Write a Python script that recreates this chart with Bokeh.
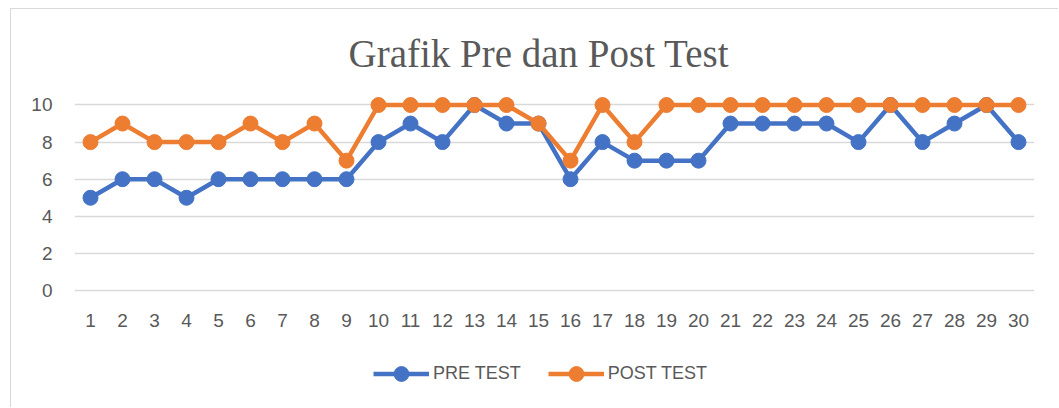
from bokeh.plotting import figure
from bokeh.models import FactorRange, Range1d, Legend, LegendItem, FixedTicker
from bokeh.embed import file_html
from bokeh.resources import INLINE

students = [str(i) for i in range(1, 31)]
pre_test = [5, 6, 6, 5, 6, 6, 6, 6, 6, 8, 9, 8, 10, 9, 9, 6, 8, 7, 7, 7, 9, 9, 9, 9, 8, 10, 8, 9, 10, 8]
post_test = [8, 9, 8, 8, 8, 9, 8, 9, 7, 10, 10, 10, 10, 10, 9, 7, 10, 8, 10, 10, 10, 10, 10, 10, 10, 10, 10, 10, 10, 10]
y_ticks = [0, 2, 4, 6, 8, 10]
series_names = ["PRE TEST", "POST TEST"]

BLUE = "#4472C4"
ORANGE = "#ED7D31"
TEXT = "#595959"
GRID = "#d9d9d9"

p = figure(
    width=1048, height=399,
    x_range=FactorRange(factors=students),
    y_range=Range1d(-5.067, 10.566),
    output_backend="svg", toolbar_location=None,
    min_border_left=63, min_border_right=25, min_border_top=85, min_border_bottom=24,
)
p.margin = (8, 0, 0, 10)
p.styles = {"border-left": "1px solid #d9d9d9", "border-top": "1px solid #d9d9d9"}
p.outline_line_color = None
p.background_fill_color = "white"
p.border_fill_color = "white"

p.title.text = "Grafik Pre dan Post Test"
p.title.align = "left"
p.title.offset = 274
p.title.standoff = 40
p.title.text_font = "Liberation Serif"
p.title.text_font_size = "39px"
p.title.text_font_style = "normal"
p.title.text_color = TEXT

for ax in (p.xaxis[0], p.yaxis[0]):
    ax.axis_line_color = None
    ax.major_tick_line_color = None
    ax.minor_tick_line_color = None
    ax.major_tick_out = 0
    ax.major_tick_in = 0
    ax.major_label_text_font = "Liberation Sans"
    ax.major_label_text_font_size = "19px"
    ax.major_label_text_color = TEXT
p.xaxis[0].fixed_location = -1.29
p.xaxis[0].major_label_standoff = 0
p.yaxis[0].major_label_standoff = 22
p.yaxis[0].ticker = FixedTicker(ticks=y_ticks)

p.xgrid.grid_line_color = None
p.ygrid.ticker = FixedTicker(ticks=y_ticks)
p.ygrid.grid_line_color = GRID
p.ygrid.grid_line_width = 1.5

l1 = p.line(students, pre_test, line_color=BLUE, line_width=4.5)
s1 = p.scatter(students, pre_test, size=15, fill_color=BLUE, line_color=BLUE)
l2 = p.line(students, post_test, line_color=ORANGE, line_width=4.5)
s2 = p.scatter(students, post_test, size=15, fill_color=ORANGE, line_color=ORANGE)

legend = Legend(
    items=[LegendItem(label=series_names[0], renderers=[l1, s1]),
           LegendItem(label=series_names[1], renderers=[l2, s2])],
    orientation="horizontal",
    location=(299, -7.5),
    glyph_width=56, glyph_height=37,
    label_standoff=4, spacing=27, padding=0, margin=0,
    label_text_font="Liberation Sans", label_text_font_size="18px",
    label_text_color=TEXT,
    border_line_color=None, background_fill_alpha=0,
)
p.add_layout(legend, "center")

open("out.html", "w").write(file_html(p, INLINE))
